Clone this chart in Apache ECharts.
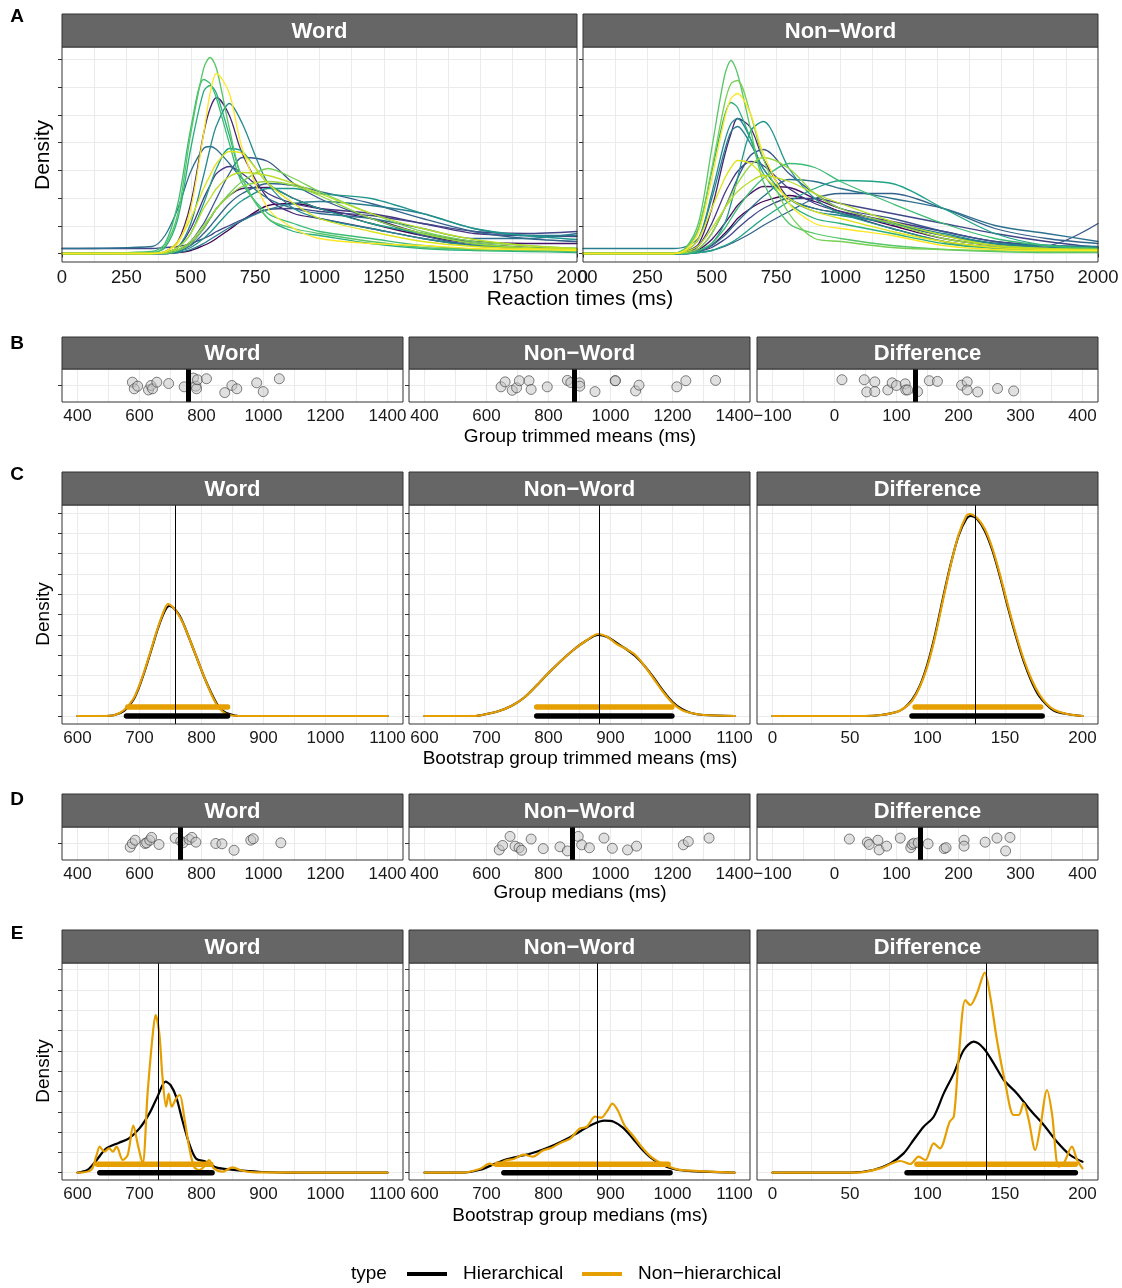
<!DOCTYPE html>
<html><head><meta charset="utf-8">
<script src="https://cdn.jsdelivr.net/npm/echarts@6/dist/echarts.min.js"></script>
<style>html,body{margin:0;padding:0;background:#fff}#c{width:1122px;height:1288px}</style>
</head><body><div id="c"></div>
<script>
// ---------------- DATA ----------------
// Panel A: per-participant RT density (height units), sampled at rtGrid
const rtGrid = [0,350,400,450,500,550,575,600,650,700,800,900,1000,1200,1400,1600,1800,2000];
const wordRtDensity = [
  [0,0,8,40,120,185,196,185,125,75,35,25,20,12,6,4,3,2],
  [0,0,2,10,45,120,160,180,160,105,45,25,15,10,8,5,4,3],
  [0,2,10,50,125,174,170,155,110,70,40,30,22,15,8,4,3,2],
  [0,1,6,35,105,162,168,160,118,75,35,22,18,10,5,3,2,1],
  [0,0,2,12,50,120,145,156,138,100,55,40,35,25,15,8,5,4],
  [0,0,1,6,30,78,105,128,150,130,70,45,35,25,15,8,6,5],
  [5,7,18,45,82,105,107,104,90,75,55,45,40,35,25,15,15,20],
  [0,0,1,6,20,50,68,85,105,102,70,55,45,30,20,10,5,3],
  [0,0,2,12,35,65,78,90,102,100,70,50,35,22,12,7,5,4],
  [0,0,1,6,25,55,68,80,87,80,60,50,45,40,30,20,18,17],
  [0,0,0,3,12,30,42,55,80,96,92,70,55,35,18,8,5,4],
  [0,0,1,6,20,45,55,65,77,81,78,70,60,40,25,14,8,5],
  [0,0,0,3,10,25,35,45,60,72,85,75,62,40,22,12,8,5],
  [0,0,0,2,8,20,27,35,50,60,70,68,62,50,35,22,15,12],
  [0,0,0,2,6,15,21,28,42,53,65,65,60,55,40,25,18,14],
  [0,0,1,4,12,28,36,45,58,67,72,68,58,35,20,10,6,4],
  [0,0,0,1,4,10,14,18,26,33,44,50,52,48,40,25,18,18],
  [5,5,6,7,10,15,18,22,28,34,44,45,42,38,30,22,20,22],
  [0,0,1,3,10,25,35,45,58,65,66,55,45,35,20,12,10,10],
  [0,0,0,1,3,8,11,15,24,33,48,50,45,30,18,10,6,4]
];
const nonWordRtDensity = [
  [0,0,6,32,105,178,193,180,125,72,30,20,15,8,4,2,1,1],
  [0,0,5,26,85,150,170,173,140,95,40,15,12,6,4,3,2,2],
  [0,0,4,22,75,135,155,160,140,100,50,30,25,18,8,4,3,3],
  [0,0,5,26,82,138,151,146,115,80,50,35,30,20,10,5,3,2],
  [0,0,2,10,45,98,120,135,126,95,55,45,40,25,12,6,4,3],
  [0,0,3,15,60,112,130,135,115,85,55,42,38,30,20,10,6,5],
  [5,5,7,16,55,103,122,127,110,85,55,45,40,30,18,10,8,7],
  [0,0,0,3,10,30,50,75,122,132,85,55,40,25,12,6,4,3],
  [0,0,1,5,20,45,60,75,98,104,80,60,45,35,22,12,8,30],
  [0,0,3,15,45,75,86,93,90,78,55,42,35,22,12,6,4,3],
  [0,0,1,8,30,60,72,82,92,88,65,50,42,32,22,12,8,6],
  [0,0,1,5,20,45,58,70,88,96,85,60,45,30,15,8,5,4],
  [0,0,2,8,25,45,54,62,72,78,72,60,50,32,18,8,5,4],
  [0,0,0,3,10,25,35,45,62,75,90,86,72,50,30,15,8,5],
  [0,0,0,2,8,18,25,32,45,57,74,72,65,55,45,28,20,12],
  [0,0,0,1,3,8,11,15,25,35,52,65,73,70,45,20,8,5],
  [0,0,0,1,3,7,10,13,20,28,42,55,60,60,45,25,15,10],
  [0,0,0,2,6,14,19,25,36,45,55,55,50,40,30,20,12,6],
  [0,0,1,4,14,30,39,48,60,67,66,55,45,30,18,10,6,4],
  [0,0,0,2,8,20,27,35,45,52,58,52,42,28,15,8,5,3]
];
const wordColorIndex = [14,19,13,12,2,9,7,11,18,3,5,17,15,6,10,16,8,4,1,0];
const nonWordColorIndex = [14,15,19,12,2,9,8,10,5,18,3,16,17,13,7,11,6,4,1,0];

// Panel B: group trimmed means [ms, jitter]
const trimWord = [[577,0.20],[583,-0.2],[594,-0.04],[629,-0.27],[637,0],[642,-0.2],[656,0.2],[694,0.12],[744,-0.08],[774,0.45],[782,-0.04],[784,-0.2],[787,0.35],[816,0.41],[875,-0.43],[898,0],[914,-0.2],[978,0.16],[999,-0.37],[1051,0.41]];
const trimNonWord = [[647,-0.08],[660,0.22],[683,-0.29],[697,-0.14],[706,0.29],[737,0.29],[744,-0.24],[796,-0.08],[861,0.31],[872,0.18],[900,0.16],[901,-0.04],[950,-0.37],[1015,0.29],[1016,0.29],[1081,-0.33],[1092,0.02],[1214,-0.08],[1243,0.29],[1339,0.31]];
const trimDiff = [[12,0.35],[48,0.35],[52,-0.39],[65,0.22],[65,-0.37],[86,-0.27],[93,0.16],[100,0],[114,0.1],[115,-0.27],[118,-0.27],[134,-0.37],[153,0.29],[166,0.25],[205,0.02],[214,0.22],[214,-0.27],[231,-0.39],[263,-0.18],[289,-0.33]];
const groupTrimmedMeans = [757, 882, 131];

// Panel D: group medians [ms, jitter]
const medWord = [[570,-0.22],[577,0],[586,0.2],[618,0],[623,0.04],[633,0.2],[639,0.37],[663,-0.06],[715,0.33],[733,0.14],[740,0.04],[760,0.24],[769,0.37],[782,0.08],[846,0],[866,-0.02],[905,-0.41],[959,0.2],[967,0.29],[1056,0.04]];
const medNonWord = [[641,-0.39],[652,-0.12],[676,0.43],[692,-0.16],[705,-0.26],[713,-0.41],[744,0.27],[783,-0.31],[837,-0.2],[861,-0.45],[896,0.43],[907,-0.08],[932,-0.26],[979,0.33],[1006,-0.29],[1055,-0.39],[1084,-0.16],[1235,-0.08],[1251,0.12],[1318,0.33]];
const medDiff = [[24,0.27],[53,0.08],[56,-0.06],[70,0.2],[72,-0.39],[84,-0.16],[106,0.33],[123,-0.25],[125,-0.06],[128,0.02],[135,0.04],[151,-0.02],[177,-0.31],[180,-0.25],[209,0.2],[209,-0.16],[243,0.08],[262,0.33],[276,-0.45],[283,0.37]];
const groupMedians = [730, 878, 138];

// Panel C: bootstrap trimmed-mean densities [ms, density]
const cWordHier = [[600,0],[640,0],[660,1],[675,5],[690,16],[700,30],[710,48],[720,68],[730,88],[740,104],[748,110],[755,108],[765,100],[775,86],[785,70],[795,54],[805,38],[815,24],[825,12],[835,5],[845,2],[860,0],[1100,0]];
const cWordNonHier = [[600,0],[640,0],[660,1],[675,6],[690,17],[700,31],[710,49],[720,69],[730,89],[740,106],[746,112],[755,108],[765,99],[775,86],[785,70],[795,54],[805,38],[815,23],[825,11],[835,4],[845,1],[860,0],[1100,0]];
const cNonWordHier = [[600,0],[680,0],[700,2],[720,5],[740,10],[760,18],[780,30],[800,43],[820,55],[840,66],[860,75],[880,81],[895,79],[910,73],[925,67],[940,60],[955,50],[970,38],[985,25],[1000,14],[1015,7],[1030,3],[1050,1],[1100,0]];
const cNonWordNonHier = [[600,0],[680,0],[700,2],[720,5],[740,10],[760,18],[780,30],[800,43],[820,55],[840,66],[860,75],[880,82],[895,79],[910,72],[925,67],[940,61],[955,50],[970,37],[985,24],[1000,13],[1015,6],[1030,3],[1050,1],[1100,0]];
const cDiffHier = [[0,0],[60,0],[70,1],[80,4],[85,8],[90,16],[95,30],[100,52],[105,82],[110,118],[115,152],[120,180],[125,197],[128,200],[132,197],[137,185],[142,165],[147,138],[152,108],[157,80],[162,55],[167,35],[172,20],[177,11],[182,5],[190,2],[200,0]];
const cDiffNonHier = [[0,0],[60,0],[70,1],[80,4],[85,8],[90,15],[95,29],[100,50],[105,80],[110,116],[115,151],[120,181],[125,200],[127,202],[132,198],[137,187],[142,167],[147,140],[152,110],[157,82],[162,57],[167,37],[172,22],[177,12],[182,6],[190,2],[200,0]];
const ciTrimHier = [[679,842],[781,999],[90,174]];
const ciTrimNonHier = [[681,842],[781,999],[92,173]];

// Panel E: bootstrap median densities [ms, density]
const eWordHier = [[600,0],[616,2.7],[630,12],[646,24],[667,30],[683,34.3],[700,44.3],[716,59.3],[729,76],[742,91],[750,87.7],[759,76],[769,52.7],[780,29.3],[791,14.3],[807,11],[823,5.3],[845,3.3],[866,2],[898,0.7],[952,0],[1100,0]];
const eWordNonHier = [[600,0],[622,2.7],[630,16],[636,26],[643,21],[651,24.3],[657,21],[663,26],[673,12.7],[681,17.7],[690,47],[698,26],[705,9.3],[713,79],[721,136],[726,157.7],[732,139],[737,96],[743,66],[747,79],[752,66],[759,74],[765,77.7],[772,56],[780,26],[788,6],[796,2.7],[804,6],[812,12.7],[820,4.3],[834,1],[850,5.3],[866,2],[887,0.3],[1100,0]];
const eNonWordHier = [[600,0],[660,0],[690,3],[710,8],[730,13],[750,16],[770,19],[790,23],[810,28],[830,34],[850,41],[870,48],[890,52],[905,51],[920,45],[935,35],[950,24],[965,15],[980,9],[1000,4],[1020,2],[1050,1],[1100,0]];
const eNonWordNonHier = [[600,0],[660,0],[690,4],[705,9],[715,7],[730,12],[745,14],[760,18],[775,16],[790,22],[805,25],[820,30],[835,34],[850,44],[862,46],[875,56],[885,55],[895,62],[903,69],[912,62],[922,48],[935,38],[950,26],[965,16],[980,10],[995,6],[1010,3],[1030,2],[1060,1],[1100,0]];
const eDiffHier = [[0,0],[50,0],[65,2.7],[76,9.3],[84.6,19.3],[91,32.7],[97.5,46],[104,56],[110.5,79.3],[117,99.3],[123.4,122.7],[129.8,131],[136.3,124.3],[142.7,109.3],[149.2,92.7],[157.7,79.3],[166.3,62.7],[175,47.7],[183.5,31],[192,17.7],[200,11]];
const eDiffNonHier = [[0,0],[54.5,0],[69.5,4.3],[82.5,11.7],[88.9,8.7],[94.3,16],[98.6,12.7],[104,29.3],[107.9,24.3],[114.3,51],[117,56],[120,112.7],[124.4,172.7],[127.6,167.7],[131.9,179.3],[136.9,200],[140.5,176],[144.8,132.7],[150.2,89.3],[155.6,57.7],[158.8,57.7],[162,69.3],[165.3,52.7],[169.5,22.7],[172.8,46],[177.1,82.7],[180.3,59.3],[184.6,6],[187.9,9.3],[193.2,26],[196.5,12.7],[200,4.3]];
const ciMedHier = [[636,817],[728,996],[86.8,195.4]];
const ciMedNonHier = [[632,815],[717,993],[93.2,195.4]];

// Tick / gridline values
const rtTicks = [0,250,500,750,1000,1250,1500,1750,2000];
const rtMinor = [125,375,625,875,1125,1375,1625,1875];
const msTicks = [400,600,800,1000,1200,1400];
const msMinor = [500,700,900,1100,1300];
const diffTicks = [-100,0,100,200,300,400];
const diffMinor = [-50,50,150,250,350];
const bootTicks = [600,700,800,900,1000,1100];
const bootMinor = [650,750,850,950,1050];
const bootDiffTicks = [0,50,100,150,200];
const bootDiffMinor = [25,75,125,175];
const densGridA = [0,27.7,55.4,83.1,110.8,138.5,166.2,193.9];
const densGridCE = [0,20.3,40.6,60.9,81.2,101.5,121.8,142.1,162.4,182.7,203];
const stripGrid = [0];
const nonHierBarLevel = {C: 9, E: 8.5};

const facetNames3 = ['Word','Non\u2212Word','Difference'];

// ---------------- STYLE / LAYOUT ----------------
const viridis20 = ['#440154','#481467','#482576','#453781','#404688','#39558C','#33638D','#2D718E','#287D8E','#238A8D','#1F968B','#20A386','#29AF7F','#3CBC75','#56C667','#75D054','#95D840','#BADE28','#DDE318','#FDE725'];
const FONT = '"Liberation Sans", Arial, Helvetica, sans-serif';
const HIER = '#000000', NONHIER = '#E69F00';
const L = {
  A: {top:47, height:215, strip:14, lefts:[62,583], width:515},
  B: {top:369, height:33, strip:337, lefts:[62,409,757], width:341},
  C: {top:505, height:219, strip:472, lefts:[62,409,757], width:341},
  D: {top:827, height:33, strip:794, lefts:[62,409,757], width:341},
  E: {top:963, height:217, strip:930, lefts:[62,409,757], width:341}
};

const grids=[], xAxes=[], yAxes=[], series=[], graphics=[];
const fmt = v => String(v).replace('-', '\u2212');

function addPanel(p) {
  const i = grids.length;
  grids.push({left:p.left, top:p.top, width:p.width, height:p.height, show:false, outerBoundsMode:'none', containLabel:false});
  xAxes.push({type:'value', gridIndex:i, min:p.xmin, max:p.xmax, axisLine:{show:false}, splitLine:{show:false},
    axisTick:{show:true, customValues:p.xTicks, length:4, lineStyle:{color:'#333', width:1}},
    axisLabel:{show:true, customValues:p.xTicks, fontSize:p.fs, color:'#1a1a1a', margin:p.margin, fontFamily:FONT, formatter:fmt, showMinLabel:true, showMaxLabel:true}});
  yAxes.push({type:'value', gridIndex:i, min:p.ymin, max:p.ymax, axisLine:{show:false}, splitLine:{show:false}, axisLabel:{show:false},
    axisTick:{show:true, customValues:p.yGrid, length:4, lineStyle:{color:'#333', width:1}}});
  const ml = [];
  p.xGrid.filter(v => v > p.xmin && v < p.xmax).forEach(v => ml.push({xAxis:v}));
  p.yGrid.forEach(v => ml.push({yAxis:v}));
  series.push({type:'line', xAxisIndex:i, yAxisIndex:i, data:[[p.xmin,p.ymin]], symbol:'none', lineStyle:{opacity:0}, silent:true, z:1,
    markLine:{silent:true, symbol:['none','none'], label:{show:false}, lineStyle:{color:'#ebebeb', width:1.1, type:'solid'}, emphasis:{disabled:true}, data:ml, z:1, animation:false}});
  graphics.push({type:'rect', z:100, silent:true, shape:{x:p.left, y:p.top, width:p.width, height:p.height}, style:{fill:'none', stroke:'#333333', lineWidth:1}});
  return i;
}
function addStrip(left, top, width, height, text, fs) {
  graphics.push({type:'rect', z:100, silent:true, shape:{x:left, y:top, width:width, height:height}, style:{fill:'#666666', stroke:'#333333', lineWidth:1}});
  graphics.push({type:'text', z:101, silent:true, x:left+width/2, y:top+height/2+1, style:{text:text, fill:'#ffffff', fontSize:fs, fontWeight:'bold', fontFamily:FONT, align:'center', verticalAlign:'middle'}});
}
function addText(x, y, text, fs, opts) {
  opts = opts || {};
  graphics.push({type:'text', z:101, silent:true, x:x, y:y, rotation:opts.rot||0,
    style:{text:text, fill:'#000', fontSize:fs, fontWeight:opts.bold?'bold':'normal', fontFamily:FONT, align:opts.align||'center', verticalAlign:'middle'}});
}
function lineSeries(i, data, color, width, smooth, z) {
  series.push({type:'line', xAxisIndex:i, yAxisIndex:i, data:data, symbol:'none', showSymbol:false, smooth:smooth, silent:true,
    lineStyle:{color:color, width:width, cap:'round', join:'round'}, z:z||2, animation:false});
}
function vline(i, x, width, z) {
  series.push({type:'line', xAxisIndex:i, yAxisIndex:i, data:[], symbol:'none', silent:true, z:z,
    markLine:{silent:true, symbol:['none','none'], label:{show:false}, lineStyle:{color:'#000', width:width, type:'solid'}, emphasis:{disabled:true}, data:[{xAxis:x}], z:z, animation:false}});
}

// ---- Row A ----
const rtSets = [[wordRtDensity, wordColorIndex],[nonWordRtDensity, nonWordColorIndex]];
['Word','Non\u2212Word'].forEach((name, k) => {
  const i = addPanel({left:L.A.lefts[k], top:L.A.top, width:L.A.width, height:L.A.height, xmin:0, xmax:2000, ymin:-8.5, ymax:206.5,
    xTicks:rtTicks, xGrid:rtTicks.concat(rtMinor), yGrid:densGridA, fs:18.5, margin:6});
  addStrip(L.A.lefts[k], L.A.strip, L.A.width, L.A.top-L.A.strip, name, 22);
  const [dens, cidx] = rtSets[k];
  const order = dens.map((d, j) => j).sort((a, b) => cidx[a] - cidx[b]);
  order.forEach(j => {
    lineSeries(i, rtGrid.map((x, q) => [x, dens[j][q]]), viridis20[cidx[j]], 1.3, 0.3, 2);
  });
});
addText(580, 299, 'Reaction times (ms)', 21);
addText(43, 155, 'Density', 21, {rot:Math.PI/2});
addText(17, 17, 'A', 19, {bold:true});

// ---- Strip rows B & D ----
function stripRow(R, sets, means, title, titleY, letter, letterY) {
  sets.forEach((pts, k) => {
    const isDiff = k === 2;
    const i = addPanel({left:R.lefts[k], top:R.top, width:R.width, height:R.height,
      xmin:isDiff?-125:350, xmax:isDiff?425:1450, ymin:-1, ymax:1,
      xTicks:isDiff?diffTicks:msTicks, xGrid:(isDiff?diffTicks.concat(diffMinor):msTicks.concat(msMinor)), yGrid:stripGrid, fs:17, margin:6});
    addStrip(R.lefts[k], R.strip, R.width, R.top-R.strip, facetNames3[k], 22);
    series.push({type:'scatter', xAxisIndex:i, yAxisIndex:i, data:pts, symbol:'circle', symbolSize:10, silent:true, z:2,
      itemStyle:{color:'rgba(195,195,195,0.65)', borderColor:'#3a3a3a', borderWidth:0.8}, animation:false});
    vline(i, means[k], 5, 6);
  });
  addText(580, titleY, title, 19);
  addText(17, letterY, letter, 19, {bold:true});
}
stripRow(L.B, [trimWord, trimNonWord, trimDiff], groupTrimmedMeans, 'Group trimmed means (ms)', 437, 'B', 344);
stripRow(L.D, [medWord, medNonWord, medDiff], groupMedians, 'Group medians (ms)', 893, 'D', 800);

// ---- Density rows C & E ----
function densRow(R, hier, nonhier, ciH, ciN, lines, barLevel, ymin, ymax, title, titleY, letter, letterY, dY) {
  for (let k = 0; k < 3; k++) {
    const isDiff = k === 2;
    const i = addPanel({left:R.lefts[k], top:R.top, width:R.width, height:R.height,
      xmin:isDiff?-10:575, xmax:isDiff?210:1125, ymin:ymin, ymax:ymax,
      xTicks:isDiff?bootDiffTicks:bootTicks, xGrid:(isDiff?bootDiffTicks.concat(bootDiffMinor):bootTicks.concat(bootMinor)), yGrid:densGridCE, fs:17, margin:6});
    addStrip(R.lefts[k], R.strip, R.width, R.top-R.strip, facetNames3[k], 22);
    lineSeries(i, hier[k], HIER, 2.2, 0.3, 2);
    lineSeries(i, nonhier[k], NONHIER, 2.2, 0.3, 3);
    lineSeries(i, [[ciH[k][0], 0],[ciH[k][1], 0]], HIER, 5.5, false, 4);
    lineSeries(i, [[ciN[k][0], barLevel],[ciN[k][1], barLevel]], NONHIER, 5.5, false, 4);
    vline(i, lines[k], 1, 6);
  }
  addText(580, titleY, title, 19);
  addText(44, dY, 'Density', 19, {rot:Math.PI/2});
  addText(17, letterY, letter, 19, {bold:true});
}
densRow(L.C, [cWordHier, cNonWordHier, cDiffHier], [cWordNonHier, cNonWordNonHier, cDiffNonHier], ciTrimHier, ciTrimNonHier,
  groupTrimmedMeans, nonHierBarLevel.C, -8, 211, 'Bootstrap group trimmed means (ms)', 759, 'C', 475, 614);
densRow(L.E, [eWordHier, eNonWordHier, eDiffHier], [eWordNonHier, eNonWordNonHier, eDiffNonHier], ciMedHier, ciMedNonHier,
  groupMedians, nonHierBarLevel.E, -7.3, 209.7, 'Bootstrap group medians (ms)', 1216, 'E', 934, 1071);

// ---- Legend ----
addText(351, 1274, 'type', 19, {align:'left'});
graphics.push({type:'line', z:101, silent:true, shape:{x1:407, y1:1274, x2:447, y2:1274}, style:{stroke:HIER, lineWidth:4}});
addText(463, 1274, 'Hierarchical', 19, {align:'left'});
graphics.push({type:'line', z:101, silent:true, shape:{x1:582, y1:1274, x2:622, y2:1274}, style:{stroke:NONHIER, lineWidth:4}});
addText(638, 1274, 'Non\u2212hierarchical', 19, {align:'left'});

const chart = echarts.init(document.getElementById('c'), null, {renderer:'canvas', width:1122, height:1288});
chart.setOption({
  animation:false,
  backgroundColor:'#ffffff',
  textStyle:{fontFamily:FONT},
  grid:grids, xAxis:xAxes, yAxis:yAxes, series:series,
  graphic:{elements:graphics}
});
</script></body></html>
